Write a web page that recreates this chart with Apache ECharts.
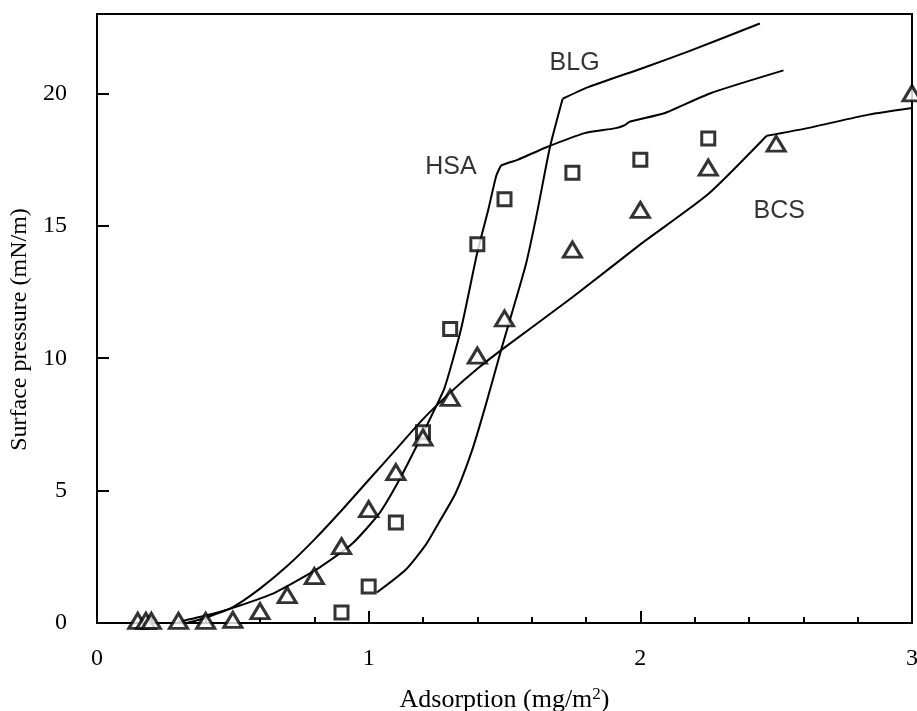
<!DOCTYPE html>
<html>
<head>
<meta charset="utf-8">
<script src="https://cdn.jsdelivr.net/npm/echarts@6/dist/echarts.min.js"></script>
<style>
html,body{margin:0;padding:0;background:#fff;overflow:hidden;width:917px;height:711px;}
#chart{width:917px;height:711px;}
</style>
</head>
<body>
<div id="chart"></div>
<script>
// Measured points (adsorption mg/m2, surface pressure mN/m)
const squareX = [0.90, 1.00, 1.10, 1.20, 1.30, 1.40, 1.50, 1.75, 2.00, 2.25];
const squareY = [0.40, 1.38, 3.80, 7.20, 11.1, 14.3, 16.0, 17.0, 17.5, 18.3];

const triangleX = [0.15, 0.18, 0.20, 0.30, 0.40, 0.50, 0.60, 0.70, 0.80, 0.90, 1.00, 1.10, 1.20, 1.30, 1.40, 1.50, 1.75, 2.00, 2.25, 2.50, 3.00];
const triangleY = [0.08, 0.08, 0.08, 0.08, 0.08, 0.12, 0.45, 1.05, 1.77, 2.90, 4.30, 5.70, 7.00, 8.50, 10.1, 11.5, 14.1, 15.6, 17.2, 18.1, 20.0];

// Model curves (kink index marks the sharp corner of each curve)
const hsaX = [0.30, 0.40, 0.50, 0.645, 0.74, 0.82, 0.94, 1.04, 1.11, 1.18, 1.23, 1.28, 1.34, 1.40, 1.44, 1.47, 1.487, 1.52, 1.55, 1.65, 1.795, 1.905, 1.94, 1.963, 2.088, 2.256, 2.527];
const hsaY = [0.04, 0.28, 0.57, 1.10, 1.62, 2.10, 3.00, 4.15, 5.35, 6.75, 7.80, 8.90, 11.1, 14.0, 15.6, 16.9, 17.28, 17.4, 17.5, 17.95, 18.5, 18.68, 18.79, 18.94, 19.25, 20.0, 20.87];
const hsaKink = 16;

const blgX = [1.03, 1.135, 1.21, 1.256, 1.32, 1.38, 1.43, 1.49, 1.53, 1.58, 1.62, 1.667, 1.714, 1.806, 2.015, 2.18, 2.44];
const blgY = [1.15, 2.00, 2.95, 3.75, 4.90, 6.50, 8.20, 10.4, 11.8, 13.6, 15.5, 17.96, 19.8, 20.23, 20.98, 21.6, 22.64];
const blgKink = 12;

const bcsX = [0.33, 0.40, 0.50, 0.60, 0.70, 0.80, 0.90, 1.00, 1.10, 1.20, 1.30, 1.40, 1.50, 1.75, 2.00, 2.25, 2.465, 2.62, 2.84, 3.00];
const bcsY = [0.00, 0.20, 0.60, 1.30, 2.15, 3.15, 4.25, 5.40, 6.55, 7.70, 8.70, 9.60, 10.4, 12.3, 14.3, 16.2, 18.4, 18.7, 19.2, 19.45];
const bcsKink = 16;

// Curve labels
const labelNames = ['HSA', 'BLG', 'BCS'];
const labelX = [1.303, 1.758, 2.511];
const labelY = [17.2, 21.13, 15.55];

const xTicks = [0, 1, 2, 3];
const yTicks = [0, 5, 10, 15, 20];

const zip = (xs, ys) => xs.map((x, i) => [x, ys[i]]);

const chart = echarts.init(document.getElementById('chart'), null, {renderer: 'canvas'});
const serif = '"Liberation Serif","Times New Roman",serif';
const sans = '"Liberation Sans",Arial,sans-serif';

const lineStyle = {color: '#000', width: 2};
const curveParts = (name, xs, ys, k) => {
  const pts = zip(xs, ys);
  return [pts.slice(0, k + 1), pts.slice(k)].map((part, i) => ({
    type: 'line', name: name + i, data: part, showSymbol: false, symbol: 'none',
    smooth: 0.2, lineStyle, z: 2
  }));
};

chart.setOption({
  animation: false,
  backgroundColor: '#fff',
  grid: {left: 97, right: 5, top: 14, bottom: 88, containLabel: false, outerBoundsMode: 'none',
    show: true, borderColor: '#000', borderWidth: 2, backgroundColor: 'transparent'},
  xAxis: {
    type: 'value', min: 0, max: 3, interval: 1,
    name: 'Adsorption (mg/m{sup|2})',
    nameLocation: 'middle', nameGap: 63,
    nameTextStyle: {fontFamily: serif, fontSize: 26, color: '#000',
      rich: {sup: {fontFamily: serif, fontSize: 17, color: '#000', verticalAlign: 'top', padding: [0,0,12,0]}}},
    axisLine: {show: true, lineStyle: {color: '#000', width: 2}},
    axisTick: {show: true, inside: true, length: 12, lineStyle: {color: '#000', width: 2}},
    minorTick: {show: true, splitNumber: 5, length: 6, lineStyle: {color: '#000', width: 2}},
    axisLabel: {fontFamily: serif, fontSize: 24, color: '#000', margin: 24,
      formatter: v => xTicks.includes(v) ? String(v) : ''},
    splitLine: {show: false}
  },
  yAxis: {
    type: 'value', min: 0, max: 23, interval: 5,
    name: 'Surface pressure (mN/m)',
    nameLocation: 'middle', nameGap: 48,
    nameTextStyle: {fontFamily: serif, fontSize: 24, color: '#000', padding: [0, 22, 0, 0]},
    axisLine: {show: true, lineStyle: {color: '#000', width: 2}},
    axisTick: {show: true, inside: true, length: 12, lineStyle: {color: '#000', width: 2}},
    axisLabel: {fontFamily: serif, fontSize: 24, color: '#000', margin: 30,
      formatter: v => yTicks.includes(v) ? String(v) : ''},
    splitLine: {show: false}
  },
  series: [
    ...curveParts('HSA', hsaX, hsaY, hsaKink),
    ...curveParts('BLG', blgX, blgY, blgKink),
    ...curveParts('BCS', bcsX, bcsY, bcsKink),
    {type: 'scatter', name: 'squares', data: zip(squareX, squareY), symbol: 'rect', symbolSize: 13,
      itemStyle: {color: '#fff', borderColor: '#000', borderWidth: 3}, z: 3},
    {type: 'scatter', name: 'triangles', data: zip(triangleX, triangleY), symbol: 'triangle', symbolSize: [18, 15],
      itemStyle: {color: '#fff', borderColor: '#000', borderWidth: 3}, z: 3},
    {type: 'scatter', name: 'labels', data: labelX.map((x, i) => ({value: [x, labelY[i]], name: labelNames[i]})),
      symbolSize: 0, silent: true,
      label: {show: true, position: 'inside', formatter: p => p.name, fontFamily: sans, fontSize: 25, color: '#000'}, z: 4}
  ]
});
</script>
</body>
</html>
